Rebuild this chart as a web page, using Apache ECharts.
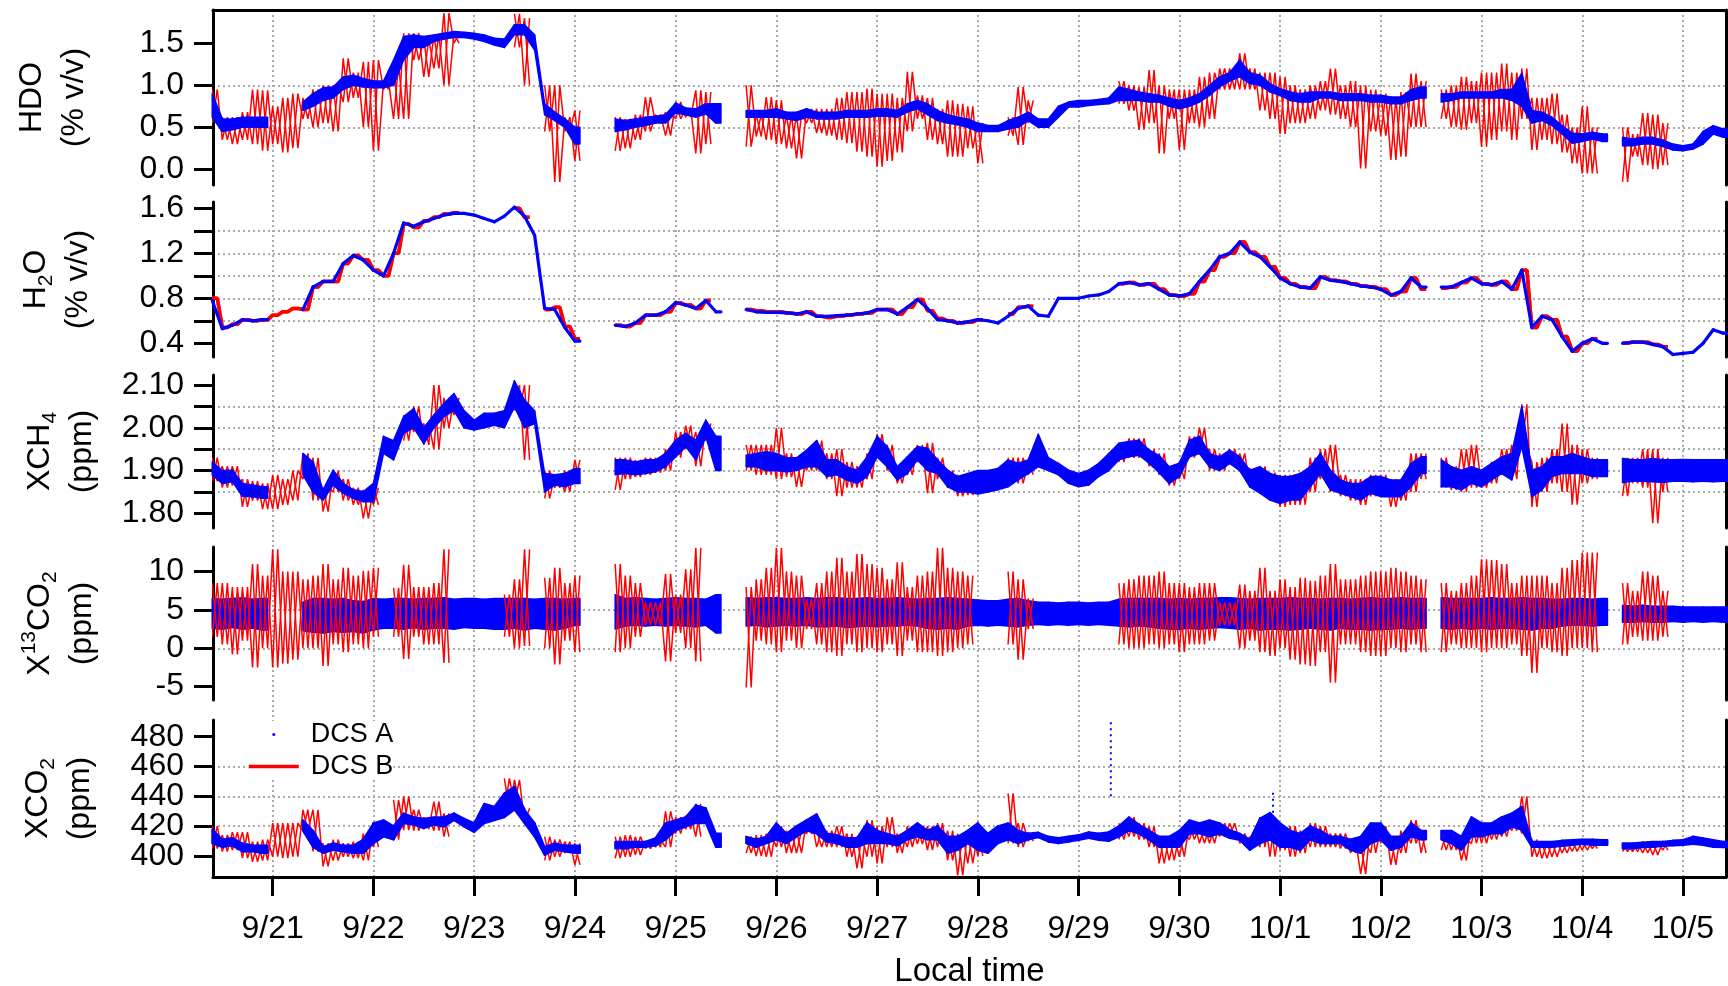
<!DOCTYPE html>
<html><head><meta charset="utf-8">
<script src="https://cdn.jsdelivr.net/npm/echarts@6/dist/echarts.min.js"></script>
<style>html,body{margin:0;padding:0;background:#fff}#c{width:1728px;height:986px}</style>
</head><body><div id="c"></div>
<script>
const _ = null;
// x axis: day of month (Sept), 31 = 10/1
const dayTicks = [21,22,23,24,25,26,27,28,29,30,31,32,33,34,35];
const dayLabels = ['9/21','9/22','9/23','9/24','9/25','9/26','9/27','9/28','9/29','9/30','10/1','10/2','10/3','10/4','10/5'];
const tStart = 20.4, tStep = 0.1;   // sampling grid of the read values

const hdoTicks = [0, 0.5, 1.0, 1.5];          const hdoLabels = [0, 0.5, 1.0, 1.5];
const h2oTicks = [0.4,0.6,0.8,1.0,1.2,1.4,1.6]; const h2oLabels = [0.4, 0.8, 1.2, 1.6];
const ch4Ticks = [1.8,1.85,1.9,1.95,2.0,2.05,2.1]; const ch4Labels = [1.8, 1.9, 2.0, 2.1];
const c13Ticks = [-5, 0, 5, 10];              const c13Labels = [-5, 0, 5, 10];
const co2Ticks = [400, 420, 440, 460, 480];   const co2Labels = [400, 420, 440, 460, 480];

// ---------- HDO (% v/v) ----------
const hdoA_lo = [
0.62,0.45,0.47,0.50,0.50,0.50,
_,_,_,0.70,0.75,0.82,0.85,0.95,1.00,0.98,
0.97,0.97,1.00,1.30,1.45,1.45,1.52,1.55,1.57,1.57,
1.55,1.52,1.48,1.45,1.60,1.60,1.42,0.65,0.58,0.50,
0.30,_,_,_,0.45,0.47,0.50,0.52,0.55,0.55,
0.67,0.65,0.62,0.66,0.55,_,_,0.62,0.62,0.62,
0.62,0.60,0.58,0.62,0.60,0.60,0.60,0.62,0.62,0.62,
0.63,0.63,0.62,0.68,0.72,0.65,0.58,0.55,0.53,0.50,
0.45,0.45,0.45,0.48,0.50,0.58,0.50,0.50,0.62,0.74,
0.74,0.76,0.77,0.78,0.82,0.82,0.82,0.80,0.80,0.75,
0.72,0.75,0.80,0.88,0.98,1.05,1.10,1.02,1.00,0.92,
0.88,0.82,0.80,0.80,0.85,0.85,0.82,0.82,0.82,0.80,
0.80,0.78,0.78,0.82,0.85,_,0.80,0.82,0.85,0.85,
0.85,0.85,0.85,0.82,0.75,0.55,0.58,0.52,0.42,0.31,
0.33,0.36,0.33,_,0.28,0.28,0.30,0.30,0.27,0.23,
0.22,0.24,0.30,0.42,0.38];
const hdoA_hi = [
0.90,0.60,0.60,0.62,0.62,0.62,
_,_,_,0.80,0.90,0.97,0.98,1.10,1.12,1.08,
1.05,1.05,1.30,1.58,1.60,1.58,1.60,1.62,1.64,1.63,
1.62,1.60,1.56,1.55,1.72,1.72,1.60,0.78,0.68,0.60,
0.50,_,_,_,0.60,0.58,0.60,0.62,0.63,0.65,
0.79,0.73,0.72,0.78,0.78,_,_,0.70,0.70,0.70,
0.72,0.68,0.68,0.72,0.68,0.68,0.68,0.70,0.70,0.70,
0.72,0.72,0.70,0.78,0.82,0.78,0.70,0.65,0.62,0.60,
0.55,0.52,0.52,0.58,0.62,0.68,0.60,0.60,0.75,0.80,
0.82,0.82,0.83,0.85,0.98,0.95,0.92,0.90,0.88,0.85,
0.82,0.85,0.90,1.00,1.10,1.15,1.30,1.15,1.12,1.02,
0.96,0.92,0.90,0.92,0.92,0.92,0.90,0.90,0.90,0.88,
0.88,0.86,0.86,0.95,0.98,_,0.90,0.90,0.92,0.92,
0.92,0.92,0.95,0.95,1.14,0.70,0.68,0.62,0.52,0.43,
0.42,0.44,0.42,_,0.38,0.36,0.38,0.38,0.35,0.30,
0.28,0.30,0.45,0.52,0.48];
const hdoB_lo = [
0.55,0.35,0.30,0.35,0.30,0.22,
0.30,0.20,0.25,0.60,0.50,0.55,0.45,0.80,0.85,0.50,
0.22,0.95,0.60,0.60,1.30,1.10,1.20,1.00,1.50,_,
_,_,_,_,1.45,1.00,_,0.45,-0.15,0.45,
0.10,_,_,_,0.22,0.25,0.35,0.45,0.55,0.40,
0.60,0.62,0.19,0.30,_,_,_,0.27,0.39,0.35,
0.30,0.25,0.13,0.55,0.43,0.40,0.35,0.31,0.21,0.15,
0.03,0.10,0.20,0.45,0.60,0.35,0.30,0.15,0.15,0.25,
0.07,_,_,0.40,0.29,0.55,_,_,_,_,
_,_,_,_,0.78,0.70,0.47,0.55,0.19,0.60,
0.23,0.55,0.50,0.60,0.95,0.95,0.95,0.95,0.70,0.60,
0.42,0.55,0.55,0.60,0.70,0.65,0.60,0.50,0.01,0.45,
0.40,0.11,0.15,0.50,0.50,_,0.60,0.50,0.47,0.55,
0.27,0.35,0.45,0.35,0.60,0.23,0.35,0.30,0.20,0.07,
-0.05,-0.05,_,_,-0.15,0.15,0.05,0.00,0.05,_,
_,_,_,_,_];
const hdoB_hi = [
0.95,0.62,0.62,0.68,0.95,0.94,
0.75,0.85,0.90,0.85,0.95,1.00,1.00,1.32,1.15,1.28,
1.30,1.05,1.25,1.62,1.62,1.55,1.60,1.86,1.62,_,
_,_,_,_,1.85,1.80,_,1.00,1.00,0.62,
0.70,_,_,_,0.62,0.60,0.65,0.86,0.65,0.68,
0.80,0.72,0.94,0.92,_,_,_,1.00,0.65,0.86,
0.82,0.65,0.65,0.72,0.72,0.72,0.85,0.92,0.92,0.96,
0.90,0.90,0.85,1.16,0.88,0.85,0.72,0.82,0.78,0.75,
0.55,_,_,0.62,0.98,0.82,_,_,_,_,
_,_,_,_,1.05,1.00,0.98,1.18,1.00,0.95,
0.95,0.95,1.10,1.15,1.20,1.20,1.38,1.20,1.15,1.15,
1.10,1.00,0.95,1.00,1.05,1.20,1.00,1.05,1.00,0.95,
0.90,0.85,0.92,1.14,1.05,_,0.95,1.00,1.10,1.05,
1.15,1.15,1.26,1.15,1.20,0.85,0.85,0.90,0.65,0.50,
0.75,0.50,_,_,0.50,0.42,0.67,0.65,0.55,_,
_,_,_,_,_];

// ---------- H2O (% v/v) ----------
const h2oA = [
0.78,0.53,0.56,0.61,0.60,0.61,
_,_,_,0.70,0.90,0.95,0.95,1.11,1.18,1.14,
1.05,1.00,1.20,1.47,1.44,1.48,1.51,1.54,1.555,1.555,
1.54,1.51,1.48,1.53,1.61,1.53,1.36,0.71,0.70,0.54,
0.42,_,_,_,0.56,0.55,0.58,0.65,0.65,0.68,
0.76,0.74,0.71,0.78,0.68,_,_,0.70,0.68,0.675,
0.675,0.67,0.66,0.68,0.64,0.64,0.645,0.65,0.66,0.67,
0.70,0.70,0.66,0.72,0.79,0.71,0.61,0.60,0.58,0.59,
0.61,0.60,0.58,0.64,0.71,0.73,0.65,0.64,0.80,0.80,
0.80,0.82,0.83,0.86,0.93,0.94,0.92,0.93,0.88,0.83,
0.82,0.84,0.95,1.05,1.17,1.20,1.30,1.21,1.17,1.08,
0.98,0.93,0.90,0.89,0.99,0.96,0.95,0.93,0.91,0.90,
0.88,0.83,0.86,0.98,0.90,_,0.90,0.90,0.94,0.98,
0.93,0.92,0.95,0.88,1.05,0.54,0.64,0.61,0.46,0.33,
0.40,0.44,0.40,_,0.40,0.41,0.41,0.39,0.37,0.30,
0.31,0.32,0.40,0.52,0.49];
const h2oB = [
0.80,0.54,0.57,0.61,0.60,0.61,
0.65,0.68,0.71,0.70,0.90,0.95,0.95,1.11,1.18,1.14,
1.05,1.00,1.20,1.46,1.43,1.49,1.52,1.55,1.56,_,
_,_,_,_,1.60,1.52,_,0.70,0.72,0.55,
0.44,_,_,_,0.56,0.55,0.58,0.65,0.65,0.68,
0.76,0.74,0.71,0.78,_,_,_,0.70,0.69,0.68,
0.68,0.67,0.66,0.68,0.64,0.63,0.64,0.65,0.66,0.67,
0.70,0.70,0.66,0.72,0.79,0.69,0.62,0.60,0.58,0.59,
0.61,_,_,0.66,0.72,0.73,_,_,_,_,
_,_,_,_,0.93,0.94,0.92,0.93,0.88,0.83,
0.82,0.84,0.95,1.05,1.17,1.20,1.30,1.21,1.17,1.08,
0.98,0.93,0.90,0.89,0.99,0.96,0.95,0.93,0.91,0.90,
0.88,0.83,0.86,0.98,0.88,_,0.89,0.90,0.94,0.98,
0.93,0.92,0.95,0.88,1.05,0.54,0.64,0.61,0.46,0.33,
0.40,0.44,_,_,0.40,0.41,0.41,0.39,0.37,_,
_,_,_,_,_];

// ---------- XCH4 (ppm) ----------
const ch4A_lo = [
1.890,1.870,1.874,1.840,1.839,1.835,
_,_,_,1.890,1.850,1.831,1.866,1.847,1.835,1.827,
1.827,1.940,1.925,1.987,2.000,1.963,2.000,2.026,2.040,2.000,
1.995,2.000,2.006,2.000,2.049,2.000,2.010,1.850,1.866,1.862,
1.870,_,_,_,1.890,1.893,1.890,1.893,1.897,1.909,
1.932,1.956,1.925,1.979,1.900,_,_,1.909,1.909,1.900,
1.900,1.897,1.900,1.909,1.909,1.886,1.890,1.878,1.870,1.886,
1.932,1.909,1.878,1.893,1.925,1.900,1.893,1.862,1.850,1.850,
1.845,1.850,1.855,1.862,1.878,1.893,1.909,1.900,1.890,1.870,
1.862,1.866,1.886,1.900,1.925,1.932,1.936,1.917,1.895,1.870,
1.886,1.932,1.940,1.909,1.900,1.917,1.900,1.862,1.847,1.831,
1.823,1.831,1.831,1.862,1.893,1.855,1.847,1.839,1.831,1.847,
1.839,1.839,1.839,1.862,1.893,_,1.862,1.862,1.855,1.870,
1.862,1.878,1.893,1.878,1.956,1.839,1.855,1.886,1.893,1.893,
1.893,1.886,1.886,_,1.872,1.875,1.875,1.874,1.872,1.875,
1.875,1.874,1.875,1.874,1.875];
const ch4A_hi = [
1.920,1.900,1.901,1.870,1.866,1.862,
_,_,_,1.940,1.920,1.855,1.901,1.870,1.855,1.851,
1.870,1.980,1.970,2.026,2.045,2.000,2.030,2.057,2.080,2.040,
2.018,2.034,2.034,2.040,2.110,2.065,2.040,1.893,1.890,1.893,
1.905,_,_,_,1.925,1.925,1.920,1.925,1.925,1.940,
1.971,1.987,1.971,2.018,1.980,_,_,1.936,1.940,1.944,
1.940,1.930,1.930,1.948,1.970,1.925,1.925,1.909,1.901,1.932,
1.980,1.956,1.909,1.932,1.956,1.952,1.925,1.901,1.886,1.893,
1.900,1.900,1.905,1.925,1.917,1.925,1.985,1.930,1.917,1.901,
1.893,1.901,1.917,1.940,1.964,1.968,1.971,1.948,1.935,1.909,
1.917,1.971,1.980,1.940,1.932,1.948,1.932,1.901,1.909,1.893,
1.886,1.886,1.893,1.909,1.940,1.901,1.878,1.870,1.870,1.886,
1.886,1.878,1.878,1.917,1.932,_,1.925,1.909,1.901,1.909,
1.901,1.917,1.932,1.940,2.050,1.901,1.909,1.932,1.932,1.940,
1.932,1.925,1.925,_,1.928,1.925,1.925,1.928,1.925,1.925,
1.926,1.925,1.925,1.925,1.925];
const ch4B_lo = [
1.875,1.860,1.865,1.815,1.830,1.810,
1.810,1.820,1.830,1.880,1.830,1.804,1.850,1.830,1.820,1.788,
1.820,_,_,1.970,1.990,1.960,1.950,2.000,2.030,_,
_,_,_,_,2.040,1.925,_,1.835,1.860,1.850,
1.870,_,_,_,1.855,1.880,1.885,1.890,1.895,1.900,
1.930,1.950,1.910,1.970,_,_,_,1.900,1.890,1.890,
1.880,1.885,1.862,1.900,1.900,1.880,1.840,1.860,1.860,1.880,
1.930,1.900,1.870,1.890,1.920,1.847,1.880,1.860,1.840,1.843,
1.850,_,_,1.870,1.870,1.890,_,_,_,_,
_,_,_,_,1.920,1.930,1.930,1.910,1.890,1.865,
1.880,1.930,1.940,1.900,1.900,1.915,1.900,1.860,1.850,1.830,
1.815,1.820,1.820,1.850,1.880,1.850,1.840,1.830,1.820,1.840,
1.840,1.815,1.830,1.850,1.880,_,1.860,1.855,1.850,1.860,
1.860,1.870,1.890,1.880,1.950,1.815,1.850,1.870,1.850,1.820,
1.870,1.880,_,_,1.840,1.870,1.860,1.777,1.850,_,
_,_,_,_,_];
const ch4B_hi = [
1.930,1.910,1.910,1.880,1.875,1.870,
1.890,1.880,1.900,1.940,1.930,1.860,1.900,1.880,1.860,1.855,
1.860,_,_,2.030,2.050,2.010,2.100,2.070,2.070,_,
_,_,_,_,2.100,2.100,_,1.900,1.890,1.900,
1.925,_,_,_,1.930,1.930,1.925,1.930,1.930,1.950,
1.990,2.005,1.990,2.010,_,_,_,1.960,1.960,1.960,
2.000,1.940,1.930,1.940,1.970,1.940,1.950,1.920,1.910,1.940,
1.985,1.960,1.910,1.930,1.960,1.965,1.930,1.900,1.890,1.875,
1.880,_,_,1.930,1.930,1.920,_,_,_,_,
_,_,_,_,1.965,1.975,1.975,1.950,1.940,1.910,
1.920,1.980,2.000,1.950,1.940,1.950,1.940,1.905,1.910,1.895,
1.890,1.890,1.895,1.930,1.950,1.960,1.890,1.880,1.880,1.890,
1.890,1.880,1.880,1.940,1.940,_,1.930,1.910,1.950,1.960,
1.900,1.920,1.950,1.960,2.055,1.920,1.930,1.950,2.010,1.960,
1.950,1.930,_,_,1.930,1.930,1.950,1.950,1.930,_,
_,_,_,_,_];

// ---------- X13CO2 (ppm) ----------
const c13A_lo = [
2.6,2.5,2.7,2.5,2.6,2.4,
_,_,_,2.3,2.1,2.0,2.2,2.1,2.2,2.0,
2.4,2.6,2.6,2.5,2.7,2.5,2.6,2.6,2.5,2.7,
2.6,2.6,2.5,2.5,2.6,2.4,2.6,2.5,2.4,2.6,
3.0,_,_,_,2.5,2.9,3.0,2.9,3.0,2.9,
3.0,2.9,2.8,3.0,2.0,_,_,2.9,3.0,2.8,
2.9,3.0,2.9,3.0,2.8,2.8,2.9,2.7,2.8,2.9,
2.8,2.9,2.9,3.0,2.9,2.6,2.5,2.6,2.5,2.9,
3.0,2.9,3.0,2.9,2.8,3.0,3.1,3.0,3.1,3.0,
3.1,3.0,3.1,3.0,2.9,2.8,2.9,2.8,2.6,2.5,
2.5,2.6,2.5,2.6,2.7,2.6,2.5,2.6,2.4,2.5,
2.5,2.4,2.5,2.6,2.5,2.4,2.6,2.5,2.5,2.4,
2.5,2.5,2.6,2.5,2.6,_,2.6,2.5,2.6,2.5,
2.6,2.5,2.6,2.6,2.5,2.4,2.6,2.6,2.9,3.0,
3.0,2.9,3.0,_,3.4,3.4,3.5,3.4,3.4,3.5,
3.4,3.5,3.4,3.5,3.4];
const c13A_hi = [
6.5,6.4,6.5,6.6,6.4,6.5,
_,_,_,6.0,6.5,6.5,6.4,6.5,6.2,6.1,
6.5,6.4,6.5,6.5,6.4,6.5,6.5,6.6,6.4,6.5,
6.5,6.4,6.5,6.5,6.5,6.5,6.4,6.5,6.5,6.4,
6.5,_,_,_,7.0,6.5,6.6,6.5,6.4,6.5,
6.6,6.5,6.5,6.4,7.0,_,_,6.6,6.5,6.6,
6.6,6.5,6.5,6.6,6.5,6.6,6.6,6.5,6.5,6.6,
6.5,6.5,6.6,6.5,6.4,6.5,6.5,6.6,6.5,6.4,
6.3,6.2,6.2,6.4,6.5,6.2,6.0,6.0,5.9,6.0,
6.0,5.9,6.0,6.0,6.4,6.5,6.5,6.5,6.5,6.4,
6.5,6.4,6.5,6.5,6.6,6.6,6.5,6.4,6.5,6.5,
6.5,6.6,6.5,6.5,6.4,6.5,6.5,6.4,6.5,6.6,
6.5,6.5,6.6,6.5,6.5,_,6.6,6.5,6.5,6.5,
6.5,6.6,6.5,6.5,6.6,6.5,6.5,6.4,6.4,6.5,
6.5,6.4,6.5,_,5.6,5.5,5.6,5.5,5.5,5.5,
5.4,5.4,5.4,5.4,5.4];
const c13B_lo = [
1.5,0.5,-0.8,1.0,-2.5,0.0,
-2.5,-2.0,-1.5,0.0,0.0,-2.3,0.5,-0.5,0.5,0.0,
1.5,_,1.5,-1.4,1.5,0.5,0.5,-1.9,_,_,
_,_,_,1.5,0.0,0.3,_,0.0,-2.1,1.0,
-0.5,_,_,_,-0.5,0.0,1.5,3.0,3.0,-1.7,
2.0,0.0,-1.7,_,_,_,_,-5.1,1.0,0.5,
-0.5,1.0,0.0,2.5,0.5,-0.5,-1.0,0.5,-0.5,0.0,
-0.5,0.5,-1.0,1.0,-0.5,-0.5,-1.0,-0.5,0.0,0.5,
_,_,_,0.5,-1.5,2.5,_,_,_,_,
_,_,_,_,0.5,0.0,0.0,0.5,0.0,0.5,
-0.5,0.5,0.5,1.0,3.0,3.0,0.0,1.0,-0.5,-1.0,
0.0,-1.5,-2.1,-2.3,-0.5,-4.5,0.5,0.5,-0.5,-1.0,
-1.0,0.0,-0.5,0.5,-0.5,_,-0.5,0.5,0.0,0.0,
-0.5,0.0,0.0,0.5,-1.0,-3.2,0.0,-0.5,-1.0,0.0,
0.0,-0.5,_,_,0.5,1.5,1.0,1.0,1.5,_,
_,_,_,_,_];
const c13B_hi = [
8.5,8.5,8.0,8.0,11.0,9.5,
12.9,10.0,10.0,9.0,9.5,11.0,9.0,10.5,9.5,10.1,
10.5,_,7.9,10.9,8.0,8.0,8.5,12.9,_,_,
_,_,_,7.0,9.0,12.9,_,9.2,10.5,8.5,
9.5,_,_,_,11.0,9.5,8.5,6.0,6.0,9.7,
7.0,10.3,13.1,_,_,_,_,8.0,9.0,10.5,
13.1,10.0,9.5,6.5,8.5,10.0,11.8,10.0,12.3,11.0,
10.5,9.0,11.2,8.0,9.5,10.0,13.1,10.5,10.0,9.5,
_,_,_,10.0,9.0,6.5,_,_,_,_,
_,_,_,_,8.5,9.0,9.5,9.5,10.0,8.5,
8.5,8.0,8.5,8.5,6.0,6.0,8.3,7.5,10.5,7.5,
9.0,8.0,9.2,8.8,9.5,11.0,9.0,9.0,9.5,10.0,
10.0,10.5,10.0,9.5,9.0,_,8.5,7.5,8.5,9.5,
11.6,11.5,11.0,8.5,9.5,9.5,9.5,8.5,10.5,11.5,
12.5,12.5,_,_,8.5,7.5,10.0,9.5,7.5,_,
_,_,_,_,_];

// ---------- XCO2 (ppm) ----------
const co2A_lo = [
408.5,406,407,403,403,402,
_,_,_,417,406,402,404,403,402,402,
408.5,413,411,422,421,418.6,421,419.7,424,419.7,
416,422,424,426,431,422,413,400.7,404,403,
402,_,_,_,405,405,406,406,407,411,
417,419.7,422,422,406,_,_,408.5,406,408.5,
411,408.5,413,417,415,409.6,408.5,406,406,408.5,
408.5,408.5,407,411,413,411,411,402,404,408.5,
404,402,408.5,411,408.5,411,412.5,409.6,408.5,409.6,
410.7,412,410.7,410,413,417,415,411,406,406,
406,415,415,413,415,412,410.7,404,408.5,411,
406,406,404,411,408.5,408.5,408.5,404,402,408.5,
411,404,406,413,411,_,411,408.5,404,413,
413,415,415,419.7,417.5,406,406,406,406.7,407.4,
408,407.4,407.4,_,405,405,405.8,406,406.7,407,
407.4,408,407.4,406,405.8];
const co2A_hi = [
418,411,412,408.5,407,407,
_,_,_,424,417,406,408.5,407,407,411,
422,424,420,428.6,426,425,426,426,428.6,425,
422,435,433,442,446.5,431,422,406,408.5,407,
407,_,_,_,409.6,409.6,409.6,409.6,412,422,
424,426,434,432,415,_,_,413,411,413,
422,415,420,424,428,415,414,412,412,422,
417,415,413,417,422,417,420,413,413,417,
422,415,420,422,417,415,415.7,413,412,413,
414,416,415,416,420,426,421,417,413,413,
417,424,422,424,422,417.5,415,411,425,429,
422,417,415,420,417,413,413,411,413,422,
422,413,413,422,417,_,417,417,413,426,
422,422,426,428.6,433,409.6,409.6,409.6,410.3,410.7,
411,411,410.7,_,408.5,408.5,409,409.6,409.6,410.3,
410.7,413,411.9,410.7,409.6];
const co2B_lo = [
405,403,404,398.5,396,397,
399.5,398.5,399.5,417,403,393,397,399.5,398.5,397,
406,_,411,417.4,417,418,417,413,_,_,
_,_,_,430,435,422,_,397,399.5,402,
394,_,_,_,398.5,399.5,400.7,405,406,406,
415,418,413,_,_,_,_,402,400,399.5,
406,402,402,415,406,406,406,399.5,391.7,399.5,
395,406,402,406,408,404,406,397,387,395,
400,_,_,408.5,406,410,_,_,_,_,
_,_,_,_,411,413,411,406,395,397,
399.5,411,408.5,408.5,413,413,408.5,406,406,399.5,
404,399.5,402,406,406,406,405,402,388,402,
408.5,394,402,408.5,402,_,404,404,397,408.5,
408.5,411,413,417,415,399.5,398.5,399.5,402,403,
404,405,_,_,403,403,402,400.7,404,_,
_,_,_,_,_];
const co2B_hi = [
420,414,416,416,409.6,411,
422,422,422,431,431,408.5,411,408.5,409.6,415,
422,_,437.6,440,431,426,436.5,428.6,_,_,
_,_,_,452,451,432,_,413,411,409.6,
408.5,_,_,_,413,414,413,410,411,430,
426,427,435,_,_,_,_,413,414,415,
420,417,417,424,417,417,420,415,413,424,
420,426,415,420,420,420,422,417,415,417,
415,_,_,442,422,416,_,_,_,_,
_,_,_,_,422,426,422,420,413,413,
415,422,420,420,422,422,415,413,426,426,
420,420,417,422,420,415,415,411,408.5,422,
420,413,417,424,417,_,415,415,411,424,
422,422,424,426,440,411,408.5,409.6,409.6,410.7,
410.7,410,_,_,408.5,408.5,409.6,409.6,410,_,
_,_,_,_,_];
// isolated vertical bursts of DCS A points (XCO2)
const co2A_spikeT = [29.32, 29.32];
const co2A_spikeV = [440, 491];
const co2A_spike2T = [30.93, 30.93];
const co2A_spike2V = [425, 445];

// ================= build =================
const FONT = '"Liberation Sans", Arial, Helvetica, sans-serif';
const BLUE = '#0000ff', RED = '#ff0000';
const X_MIN = 20.4075, X_MAX = 35.427;
const times = hdoA_lo.map((v, i) => +(tStart + i * tStep).toFixed(2));

// each sampling step carries its DCS B min and max; drawn as a trace that swings between them
function swing(lo, hi, startHigh) {
  const out = [];
  for (let i = 0; i < times.length; i++) {
    if (lo[i] == null || hi[i] == null) { out.push([times[i], null]); continue; }
    const a = startHigh ? hi[i] : lo[i], b = startHigh ? lo[i] : hi[i];
    out.push([times[i], a]);
    out.push([+(times[i] + tStep / 2).toFixed(3), b]);
  }
  return out;
}
function band(lo, hi) {
  const out = [];
  for (let i = 0; i < times.length; i++) {
    if (lo[i] == null) continue;
    const j = i + 1;
    if (j < times.length && lo[j] != null) out.push([times[i], lo[i], hi[i], times[j], lo[j], hi[j]]);
    else out.push([times[i], lo[i], hi[i], times[i] + tStep / 2, lo[i], hi[i]]);
  }
  return out;
}
function bandRenderer(lw) {
  return function (params, api) {
    const a = api.coord([api.value(0), api.value(1)]);
    const b = api.coord([api.value(0), api.value(2)]);
    const c = api.coord([api.value(3), api.value(5)]);
    const d = api.coord([api.value(3), api.value(4)]);
    return { type: 'polygon', shape: { points: [a, b, c, d] },
      style: { fill: BLUE, stroke: BLUE, lineWidth: lw, lineJoin: 'round' } };
  };
}
const gridLine = () => ({ show: true, showMinLine: false, showMaxLine: false,
  lineStyle: { color: '#a9a9a9', width: 2, type: [2, 3] } });
const RICH = {
  sub: { fontSize: 21, lineHeight: 16, verticalAlign: 'bottom', fontFamily: FONT, color: '#000' },
  sup: { fontSize: 21, lineHeight: 16, verticalAlign: 'top', fontFamily: FONT, color: '#000' }
};

const panels = [
  { top: 10,  height: 175, min: -0.187, max: 1.896, step: 0.5,  ticks: hdoTicks, labels: hdoLabels, digits: 1,
    name: 'HDO\n(% v/v)', gap: 118, lo: hdoA_lo, hi: hdoA_hi, blo: hdoB_lo, bhi: hdoB_hi, bandLW: 1.5, redLW: 1.5, redTop: false },
  { top: 202, height: 155, min: 0.278, max: 1.656, step: 0.2,  ticks: h2oTicks, labels: h2oLabels, digits: 1,
    name: 'H{sub|2}O\n(% v/v)', gap: 114, lo: h2oA, hi: h2oA, blo: h2oB, bhi: h2oB, bandLW: 3.2, redLW: 3.5, redTop: false },
  { top: 375, height: 153, min: 1.7657, max: 2.1234, step: 0.05, ticks: ch4Ticks, labels: ch4Labels, digits: 2,
    name: 'XCH{sub|4}\n(ppm)', gap: 110, lo: ch4A_lo, hi: ch4A_hi, blo: ch4B_lo, bhi: ch4B_hi, bandLW: 1.5, redLW: 1.5, redTop: false },
  { top: 547, height: 153, min: -6.74, max: 13.21, step: 5,    ticks: c13Ticks, labels: c13Labels, digits: 0,
    name: 'X{sup|13}CO{sub|2}\n(ppm)', gap: 110, lo: c13A_lo, hi: c13A_hi, blo: c13B_lo, bhi: c13B_hi, bandLW: 1.5, redLW: 1.5, redTop: true },
  { top: 720, height: 157, min: 385.9, max: 491.2, step: 20,   ticks: co2Ticks, labels: co2Labels, digits: 0,
    name: 'XCO{sub|2}\n(ppm)', gap: 112, lo: co2A_lo, hi: co2A_hi, blo: co2B_lo, bhi: co2B_hi, bandLW: 2, redLW: 1.5, redTop: false,
    splitLabels: true }
];

const grids = panels.map(p => ({ left: 213, right: 2, top: p.top, height: p.height, outerBoundsMode: 'none' }));
grids.push({ left: 213, right: 2, top: 10, height: 867, outerBoundsMode: 'none' });

const blackLine = { show: true, onZero: false, lineStyle: { color: '#000', width: 3 } };
const xAxes = panels.map((p, i) => ({
  type: 'value', gridIndex: i, min: X_MIN, max: X_MAX, show: i === 4,
  axisLine: blackLine,
  axisTick: { show: true, length: 19, lineStyle: { color: '#000', width: 3 }, customValues: dayTicks },
  axisLabel: { show: true, customValues: dayTicks, fontSize: 32, color: '#000', fontFamily: FONT, margin: 36,
    showMinLabel: true, showMaxLabel: true, hideOverlap: false,
    formatter: v => dayLabels[dayTicks.indexOf(Math.round(v))] },
  splitLine: { show: false },
  name: i === 4 ? 'Local time' : '', nameLocation: 'middle', nameGap: 78, nameMoveOverlap: false,
  nameTextStyle: { fontSize: 33, color: '#000', fontFamily: FONT }
}));
xAxes.push({ type: 'value', gridIndex: 0, position: 'top', min: X_MIN, max: X_MAX,
  axisLine: blackLine, axisTick: { show: false }, axisLabel: { show: false }, splitLine: { show: false } });
xAxes.push({ type: 'value', gridIndex: 5, min: X_MIN, max: X_MAX, minInterval: 1, maxInterval: 1,
  axisLine: { show: false }, axisTick: { show: false }, axisLabel: { show: false }, splitLine: gridLine() });

const labelStyle = (p, values) => ({ show: true, customValues: values, formatter: v => v.toFixed(p.digits),
  showMinLabel: true, showMaxLabel: true, hideOverlap: false,
  fontSize: 32, color: '#000', fontFamily: FONT, margin: 29 });
const yAxes = [];
const extraAxes = [];
panels.forEach((p, i) => {
  // closely spaced labels are shared between two coincident axes so none is dropped
  const mainLabels = p.splitLabels ? p.labels.filter((v, k) => k % 2 === 0) : p.labels;
  yAxes.push({
    type: 'value', gridIndex: i, position: 'left', min: p.min, max: p.max, minInterval: p.step, maxInterval: p.step,
    axisLine: blackLine,
    axisTick: { show: true, length: 19, lineStyle: { color: '#000', width: 3 }, customValues: p.ticks },
    axisLabel: labelStyle(p, mainLabels),
    splitLine: gridLine(),
    name: p.name, nameLocation: 'middle', nameRotate: 90, nameGap: p.gap, nameMoveOverlap: false,
    nameTextStyle: { fontSize: 32, color: '#000', fontFamily: FONT, lineHeight: 42, rich: RICH }
  });
  if (p.splitLabels) {
    extraAxes.push({ type: 'value', gridIndex: i, position: 'left', offset: 0, min: p.min, max: p.max,
      axisLine: { show: false }, axisTick: { show: false }, splitLine: { show: false },
      axisLabel: labelStyle(p, p.labels.filter((v, k) => k % 2 === 1)) });
  }
});
panels.forEach((p, i) => {
  yAxes.push({ type: 'value', gridIndex: i, position: 'right', min: p.min, max: p.max,
    axisLine: blackLine, axisTick: { show: false }, axisLabel: { show: false }, splitLine: { show: false } });
});
yAxes.push({ type: 'value', gridIndex: 5, show: false, min: 0, max: 1 });
extraAxes.forEach(a => yAxes.push(a));

const series = [];
panels.forEach((p, i) => {
  [true, false].forEach(phase => {
    series.push({ name: 'DCS B', type: 'line', xAxisIndex: i, yAxisIndex: i, data: swing(p.blo, p.bhi, phase),
      symbol: 'none', showSymbol: false, connectNulls: false, silent: true,
      lineStyle: { color: RED, width: p.redLW }, itemStyle: { color: RED }, z: p.redTop ? 4 : 2 });
  });
  series.push({ name: 'DCS A', type: 'custom', xAxisIndex: i, yAxisIndex: i, data: band(p.lo, p.hi),
    renderItem: bandRenderer(p.bandLW), itemStyle: { color: BLUE }, silent: true, z: 3 });
});
[[co2A_spikeT, co2A_spikeV], [co2A_spike2T, co2A_spike2V]].forEach(([ts, vs]) => {
  series.push({ name: 'DCS A', type: 'line', xAxisIndex: 4, yAxisIndex: 4,
    data: ts.map((t, k) => [t, vs[k]]), symbol: 'none', silent: true,
    lineStyle: { color: BLUE, width: 2, type: [2, 4] }, itemStyle: { color: BLUE }, z: 3 });
});

const option = {
  animation: false,
  backgroundColor: '#ffffff',
  textStyle: { fontFamily: FONT },
  grid: grids, xAxis: xAxes, yAxis: yAxes, series,
  legend: {
    data: [{ name: 'DCS A', icon: 'circle' }, { name: 'DCS B' }],
    orient: 'vertical', left: 247, top: 721, padding: 0, itemGap: 5, itemWidth: 50, itemHeight: 3,
    backgroundColor: '#ffffff', selectedMode: false, z: 10,
    textStyle: { fontSize: 27, color: '#000', fontFamily: FONT, padding: [0, 0, 0, 7] },
    lineStyle: { width: 3.5 }
  }
};
const chart = echarts.init(document.getElementById('c'), null, { renderer: 'canvas' });
chart.setOption(option);
</script></body></html>
